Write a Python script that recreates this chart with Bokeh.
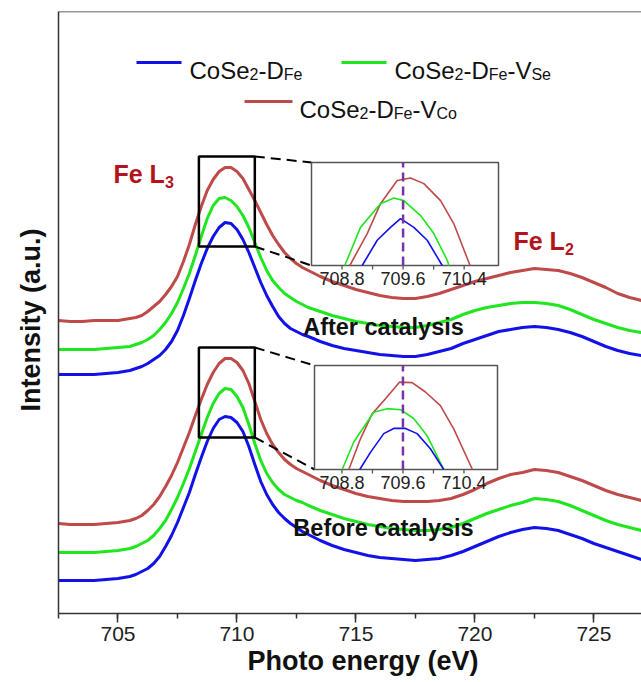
from bokeh.core.properties import value
from bokeh.embed import file_html
from bokeh.models import FixedTicker, Label, Range1d, SingleIntervalTicker, Span, Title
from bokeh.plotting import figure
from bokeh.resources import INLINE

# ---------------------------------------------------------------- data
# Fe L-edge spectra (photon energy in eV, intensity in arbitrary units, offset per trace)
energy = [702.5, 703.0, 703.5, 704.0, 704.5, 705.0,
          705.5, 705.75, 706.0, 706.25, 706.5, 706.75, 707.0, 707.25, 707.5, 707.75,
          708.0, 708.25, 708.5, 708.75, 709.0, 709.25, 709.5, 709.75, 710.0, 710.25,
          710.5, 710.75, 711.0, 711.25, 711.5, 711.75, 712.0, 712.25, 712.5, 712.75,
          713.0, 713.5, 714.0, 714.5, 715.0, 715.5, 716.0, 716.5, 717.0, 717.5,
          718.0, 718.5, 719.0, 719.5, 720.0, 720.5, 721.0, 721.5, 722.0, 722.5,
          723.0, 723.5, 724.0, 724.5, 725.0, 725.5, 726.0, 726.5, 727.0]

after_vco = [2.93, 2.92, 2.92, 2.93, 2.93, 2.93,
             2.95, 2.96, 2.98, 3.02, 3.07, 3.12, 3.19, 3.27, 3.37, 3.52,
             3.69, 3.89, 4.07, 4.23, 4.34, 4.42, 4.46, 4.46, 4.42, 4.35,
             4.24, 4.13, 4.01, 3.89, 3.78, 3.69, 3.61, 3.55, 3.50, 3.46,
             3.43, 3.37, 3.32, 3.28, 3.24, 3.21, 3.18, 3.16, 3.15, 3.15,
             3.17, 3.20, 3.24, 3.28, 3.32, 3.35, 3.38, 3.41, 3.43, 3.45,
             3.44, 3.43, 3.40, 3.36, 3.31, 3.26, 3.20, 3.16, 3.13]
after_vse = [2.64, 2.64, 2.64, 2.64, 2.65, 2.66,
             2.67, 2.69, 2.71, 2.74, 2.78, 2.84, 2.91, 3.00, 3.11, 3.25,
             3.40, 3.58, 3.77, 3.95, 4.08, 4.15, 4.16, 4.13, 4.07, 3.98,
             3.86, 3.71, 3.56, 3.43, 3.33, 3.26, 3.20, 3.16, 3.12, 3.09,
             3.06, 3.02, 2.98, 2.95, 2.92, 2.90, 2.88, 2.87, 2.86, 2.86,
             2.88, 2.91, 2.94, 2.99, 3.03, 3.06, 3.08, 3.10, 3.11, 3.11,
             3.10, 3.08, 3.04, 2.99, 2.94, 2.90, 2.86, 2.83, 2.81]
after_dfe = [2.39, 2.39, 2.39, 2.39, 2.40, 2.41,
             2.43, 2.45, 2.47, 2.50, 2.54, 2.58, 2.64, 2.72, 2.83, 2.98,
             3.15, 3.33, 3.50, 3.65, 3.77, 3.86, 3.91, 3.90, 3.84, 3.74,
             3.61, 3.46, 3.31, 3.18, 3.07, 2.97, 2.90, 2.85, 2.82, 2.79,
             2.77, 2.72, 2.68, 2.65, 2.63, 2.61, 2.59, 2.58, 2.57, 2.57,
             2.59, 2.62, 2.65, 2.70, 2.74, 2.78, 2.82, 2.84, 2.86, 2.87,
             2.86, 2.84, 2.81, 2.77, 2.72, 2.67, 2.63, 2.60, 2.58]

before_vco = [0.90, 0.89, 0.89, 0.89, 0.90, 0.91,
              0.93, 0.95, 0.98, 1.03, 1.09, 1.17, 1.27, 1.38, 1.51, 1.66,
              1.81, 1.98, 2.14, 2.29, 2.41, 2.50, 2.55, 2.55, 2.51, 2.43,
              2.30, 2.12, 1.94, 1.80, 1.69, 1.61, 1.54, 1.49, 1.45, 1.42,
              1.39, 1.33, 1.28, 1.24, 1.20, 1.17, 1.15, 1.13, 1.12, 1.12,
              1.12, 1.13, 1.15, 1.19, 1.24, 1.30, 1.35, 1.39, 1.41, 1.44,
              1.43, 1.41, 1.37, 1.33, 1.28, 1.23, 1.19, 1.16, 1.13]
before_vse = [0.61, 0.61, 0.61, 0.61, 0.62, 0.63,
              0.65, 0.67, 0.70, 0.73, 0.78, 0.85, 0.93, 1.04, 1.16, 1.30,
              1.45, 1.62, 1.79, 1.96, 2.10, 2.20, 2.25, 2.24, 2.17, 2.06,
              1.89, 1.70, 1.53, 1.40, 1.31, 1.24, 1.19, 1.16, 1.13, 1.11,
              1.08, 1.03, 0.99, 0.95, 0.92, 0.89, 0.87, 0.85, 0.84, 0.83,
              0.83, 0.84, 0.86, 0.90, 0.95, 1.00, 1.04, 1.08, 1.11, 1.15,
              1.14, 1.12, 1.08, 1.03, 0.98, 0.93, 0.89, 0.86, 0.83]
before_dfe = [0.33, 0.33, 0.33, 0.33, 0.34, 0.35,
              0.37, 0.39, 0.42, 0.45, 0.50, 0.57, 0.67, 0.78, 0.91, 1.06,
              1.21, 1.39, 1.56, 1.72, 1.85, 1.94, 1.97, 1.96, 1.91, 1.82,
              1.67, 1.49, 1.32, 1.19, 1.09, 1.01, 0.95, 0.90, 0.86, 0.82,
              0.79, 0.73, 0.68, 0.64, 0.61, 0.58, 0.56, 0.55, 0.54, 0.53,
              0.54, 0.55, 0.58, 0.62, 0.67, 0.72, 0.77, 0.81, 0.84, 0.86,
              0.85, 0.83, 0.79, 0.75, 0.70, 0.66, 0.62, 0.58, 0.54]

# zoomed L3 peak (normalised intensity), after catalysis
zoom_after_dfe_e = [709.064, 709.261, 709.435, 709.566, 709.741, 709.916, 710.113]
zoom_after_dfe_i = [0.800, 0.849, 0.874, 0.891, 0.874, 0.849, 0.800]
zoom_after_vse_e = [708.836, 709.042, 709.304, 709.479, 709.610, 709.829, 710.003, 710.179, 710.200]
zoom_after_vse_i = [0.800, 0.874, 0.920, 0.931, 0.926, 0.897, 0.862, 0.810, 0.800]
zoom_after_vco_e = [708.902, 709.130, 709.304, 709.523, 709.697, 709.872, 710.091, 710.265, 710.477]
zoom_after_vco_i = [0.800, 0.862, 0.920, 0.965, 0.970, 0.959, 0.926, 0.881, 0.800]

# zoomed L3 peak (normalised intensity), before catalysis
zoom_before_dfe_e = [709.034, 709.174, 709.348, 709.479, 709.633, 709.786, 709.960, 710.135]
zoom_before_dfe_i = [0.800, 0.833, 0.869, 0.879, 0.879, 0.869, 0.840, 0.800]
zoom_before_vse_e = [708.803, 708.955, 709.217, 709.393, 709.567, 709.741, 709.917, 710.135]
zoom_before_vse_i = [0.800, 0.853, 0.910, 0.917, 0.915, 0.898, 0.865, 0.800]
zoom_before_vco_e = [708.890, 709.043, 709.196, 709.371, 709.554, 709.720, 709.895, 710.091, 710.266, 710.511]
zoom_before_vco_i = [0.800, 0.859, 0.907, 0.936, 0.968, 0.967, 0.949, 0.923, 0.878, 0.800]

zoom_ticks = [708.8, 709.2, 709.6, 710.0, 710.4]
zoom_tick_labels = [708.8, 709.6, 710.4]
peak_position = 709.6

# ---------------------------------------------------------------- style
FONT = "Liberation Sans"
BLUE = "#1212e8"
GREEN = "#1fe61f"
RED = "#be4a4a"
LABEL_RED = "#b3141c"
PURPLE = "#7434a6"
AXIS = "#333333"

W, H = 641, 682
FL, FR, FT, FB = 58, 641, 11, 613          # plot frame on the canvas
X0, X1 = 702.5, 727.0
Y0, Y1 = 0.0, 6.02


def sx(px):
    """canvas x pixel -> energy"""
    return X0 + (px - FL) * (X1 - X0) / (FR - FL)


def sy(py):
    """canvas y pixel -> intensity"""
    return Y1 - (py - FT) * (Y1 - Y0) / (FB - FT)


p = figure(width=W, height=H, x_range=Range1d(X0, X1), y_range=Range1d(Y0, Y1),
           output_backend="svg", toolbar_location=None,
           min_border_left=FL, min_border_right=0, min_border_top=FT,
           min_border_bottom=H - FB)
p.outline_line_color = None
p.grid.visible = False
p.background_fill_color = "white"
p.border_fill_color = "white"

xa = p.xaxis[0]
xa.ticker = SingleIntervalTicker(interval=5, num_minor_ticks=2)
xa.axis_line_color = AXIS
xa.axis_line_width = 1.5
xa.major_tick_line_color = AXIS
xa.major_tick_line_width = 1.5
xa.major_tick_out = 9
xa.major_tick_in = 0
xa.minor_tick_line_color = AXIS
xa.minor_tick_line_width = 1.5
xa.minor_tick_out = 5
xa.minor_tick_in = 0
xa.major_label_text_font = FONT
xa.major_label_text_font_size = "21px"
xa.major_label_text_color = "#222222"
xa.major_label_standoff = 4

ya = p.yaxis[0]
ya.ticker = FixedTicker(ticks=[])
ya.axis_line_color = AXIS
ya.axis_line_width = 1.5
ya.major_tick_line_color = None
ya.minor_tick_line_color = None
ya.major_tick_out = 0
ya.minor_tick_out = 0
ya.major_label_standoff = 0
ya.major_label_text_font_size = "0px"

p.add_layout(Span(location=Y1, dimension="width", line_color=AXIS, line_width=1.5))

# axis titles (offsets run from the frame's left / bottom edge)
p.add_layout(Title(text="Photo energy (eV)", align="left", offset=189, standoff=0,
                   text_font=FONT, text_font_size="27px", text_font_style="bold",
                   text_color="#111111"), "below")
p.add_layout(Title(text="Intensity (a.u.)", align="left", offset=202, standoff=26,
                   text_font=FONT, text_font_size="27px", text_font_style="bold",
                   text_color="#111111"), "left")

# ---------------------------------------------------------------- spectra
for series, color in [(after_vco, RED), (after_vse, GREEN), (after_dfe, BLUE),
                      (before_vco, RED), (before_vse, GREEN), (before_dfe, BLUE)]:
    p.line(energy, series, line_color=color, line_width=3, line_join="round")

# ---------------------------------------------------------------- zoom boxes and insets
BOX_E = (708.4, 710.75)
insets = [
    # (name, box top/bottom px, inset rect px (l, t, r, b), inset x range, curves)
    ("after", (156, 246), (311, 162, 498, 265), (708.40, 710.85),
     [(zoom_after_vco_e, zoom_after_vco_i, RED),
      (zoom_after_vse_e, zoom_after_vse_i, GREEN),
      (zoom_after_dfe_e, zoom_after_dfe_i, BLUE)]),
    ("before", (347, 437), (314, 365, 497, 469), (708.44, 710.84),
     [(zoom_before_vco_e, zoom_before_vco_i, RED),
      (zoom_before_vse_e, zoom_before_vse_i, GREEN),
      (zoom_before_dfe_e, zoom_before_dfe_i, BLUE)]),
]
ZY = (0.80, 1.00)

extra_x, extra_y = {}, {}
for name, _, (l, t, r, b), xr, _ in insets:
    kx = (xr[1] - xr[0]) / (r - l)
    ky = (ZY[1] - ZY[0]) / (b - t)
    extra_x[name] = Range1d(xr[0] - (l - FL) * kx, xr[1] + (FR - r) * kx)
    extra_y[name] = Range1d(ZY[0] - (FB - b) * ky, ZY[1] + (t - FT) * ky)
p.extra_x_ranges = extra_x
p.extra_y_ranges = extra_y

for name, (bt, bb), (l, t, r, b), xr, curves in insets:
    # box around the peak in the main spectrum
    p.quad(left=[BOX_E[0]], right=[BOX_E[1]], top=[sy(bt)], bottom=[sy(bb)],
           fill_color=None, line_color="black", line_width=2.5)
    # dashed leader lines to the inset
    p.segment(x0=[BOX_E[1], BOX_E[1]], y0=[sy(bt), sy(bb)],
              x1=[sx(l), sx(l)], y1=[sy(t), sy(b)],
              line_color="black", line_width=2, line_dash="10 6")

    ky = (ZY[1] - ZY[0]) / (b - t)
    kw = dict(x_range_name=name, y_range_name=name)
    p.quad(left=[xr[0]], right=[xr[1]], bottom=[ZY[0]], top=[ZY[1]],
           fill_color="white", line_color="#555555", line_width=1.5, **kw)
    for xs, ys, color in curves:
        p.line(xs, ys, line_color=color, line_width=1.6, **kw)
    p.segment(x0=[peak_position], y0=[ZY[0]], x1=[peak_position], y1=[ZY[1]],
              line_color=PURPLE, line_width=2.5, line_dash="9 5", **kw)
    p.segment(x0=zoom_ticks, y0=[ZY[0]] * len(zoom_ticks),
              x1=zoom_ticks, y1=[ZY[0] - 4 * ky] * len(zoom_ticks),
              line_color="#555555", line_width=1.3, **kw)
    p.text(x=zoom_tick_labels, y=[ZY[0] - 6 * ky] * len(zoom_tick_labels),
           text=[f"{v:.1f}" for v in zoom_tick_labels],
           text_font=value(FONT), text_font_size=value("18px"),
           text_color="#222222", text_align="center", text_baseline="top", **kw)

# ---------------------------------------------------------------- text helpers
ADV = {"C": 722, "o": 556, "S": 667, "e": 556, "2": 556, "3": 556, "-": 333,
       "D": 722, "F": 611, "V": 667, " ": 278, "L": 611}
ADV_BOLD = {"F": 611, "e": 556, " ": 278, "L": 611, "2": 556, "3": 556}


def rich(x_px, base_py, parts, size, sub_size, color, bold=False, drop=4):
    table = ADV_BOLD if bold else ADV
    x = x_px
    for text, is_sub in parts:
        fs = sub_size if is_sub else size
        p.add_layout(Label(x=sx(x), y=sy(base_py + (drop if is_sub else 0)), text=text,
                           text_font=FONT, text_font_size=f"{fs}px",
                           text_font_style="bold" if bold else "normal",
                           text_color=color, text_align="left",
                           text_baseline="alphabetic"))
        x += sum(table[c] for c in text) * fs / 1000


# legend
legend_rows = [
    (BLUE, (136, 181), 62, 189, 69.5,
     [("CoSe", False), ("2", True), ("-D", False), ("Fe", True)]),
    (GREEN, (341, 386), 62, 394, 69.5,
     [("CoSe", False), ("2", True), ("-D", False), ("Fe", True), ("-V", False), ("Se", True)]),
    (RED, (244, 292), 101, 299, 108.5,
     [("CoSe", False), ("2", True), ("-D", False), ("Fe", True), ("-V", False), ("Co", True)]),
]
for color, (lx0, lx1), ly, tx, tb, parts in legend_rows:
    p.segment(x0=[sx(lx0)], y0=[sy(ly)], x1=[sx(lx1)], y1=[sy(ly)],
              line_color=color, line_width=3)
    rich(tx, tb, parts, 24, 16, "#111111")

# edge labels
rich(113, 173, [("Fe L", False), ("3", True)], 25, 16, LABEL_RED, bold=True, drop=8)
rich(513, 240, [("Fe L", False), ("2", True)], 25, 16, LABEL_RED, bold=True, drop=8)

for text, base in [("After catalysis", 326), ("Before catalysis", 527)]:
    p.add_layout(Label(x=sx(383), y=sy(base), text=text, text_font=FONT,
                       text_font_size="23.5px", text_font_style="bold",
                       text_color="#111111", text_align="center",
                       text_baseline="alphabetic"))

open("out.html", "w").write(file_html(p, INLINE))
